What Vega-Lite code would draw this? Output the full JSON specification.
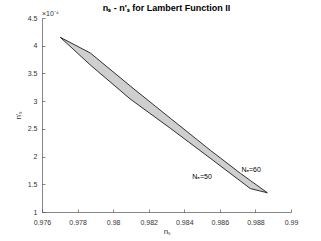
{
  "$schema": "https://vega.github.io/schema/vega-lite/v6.json",
  "width": 249,
  "height": 194,
  "autosize": "none",
  "padding": {"left": 42, "top": 18, "right": 30, "bottom": 29},
  "background": "white",
  "title": {"text": "nₛ - n'ₛ for Lambert Function II", "fontSize": 9, "font": "Liberation Sans", "fontWeight": "bold", "color": "black", "offset": 6, "dy": 9, "anchor": "middle"},
  "config": {
    "view": {"stroke": null},
    "axis": {
      "domainColor": "#555555", "domainWidth": 0.7,
      "tickColor": "#555555", "tickWidth": 0.7, "tickSize": -3,
      "labelFont": "Liberation Sans", "labelFontSize": 7, "labelColor": "#333333",
      "labelOverlap": false, "labelFlush": false, "labelBound": false,
      "titleFont": "Liberation Sans", "titleFontSize": 8, "titleFontWeight": "normal", "titleColor": "#333333",
      "grid": false
    }
  },
  "datasets": {
    "region": [
      {"ns": 0.97703, "y": 4.151, "lower": 4.151},
      {"ns": 0.97872, "y": 3.868, "lower": 3.651},
      {"ns": 0.98097, "y": 3.271, "lower": 3.036},
      {"ns": 0.98321, "y": 2.693, "lower": 2.512},
      {"ns": 0.98546, "y": 2.115, "lower": 1.970},
      {"ns": 0.98715, "y": 1.699, "lower": 1.560},
      {"ns": 0.98771, "y": 1.569, "lower": 1.423},
      {"ns": 0.98867, "y": 1.347, "lower": 1.347}
    ],
    "labels": [
      {"ns": 0.98445, "y": 1.627, "text": "Nₑ=50"},
      {"ns": 0.98721, "y": 1.753, "text": "Nₑ=60"}
    ],
    "exp": [{"ns": 0.976, "y": 4.5, "text": "×10⁻⁴"}]
  },
  "encoding": {
    "x": {"field": "ns", "type": "quantitative", "scale": {"domain": [0.976, 0.99], "nice": false, "zero": false},
          "axis": {"title": "nₛ", "values": [0.976, 0.978, 0.98, 0.982, 0.984, 0.986, 0.988, 0.99], "format": "~g", "labelOverlap": false, "labelPadding": 9, "titlePadding": 2}},
    "y": {"field": "y", "type": "quantitative", "scale": {"domain": [1, 4.5], "nice": false, "zero": false},
          "axis": {"title": "n'ₛ", "values": [1, 1.5, 2, 2.5, 3, 3.5, 4, 4.5], "format": "~g", "labelOverlap": false, "labelPadding": 8, "titlePadding": 5}}
  },
  "layer": [
    {
      "data": {"name": "region"},
      "mark": {"type": "area", "fill": "#cfcfcf", "stroke": "black", "strokeWidth": 0.8, "interpolate": "linear", "clip": true},
      "encoding": {"y2": {"field": "lower"}}
    },
    {
      "data": {"name": "labels"},
      "mark": {"type": "text", "align": "left", "baseline": "middle", "font": "Liberation Sans", "fontSize": 7, "color": "black"},
      "encoding": {"text": {"field": "text"}}
    },
    {
      "data": {"name": "exp"},
      "mark": {"type": "text", "align": "left", "baseline": "bottom", "dy": -1, "font": "Liberation Sans", "fontSize": 7, "color": "#333333"},
      "encoding": {"text": {"field": "text"}}
    }
  ]
}
